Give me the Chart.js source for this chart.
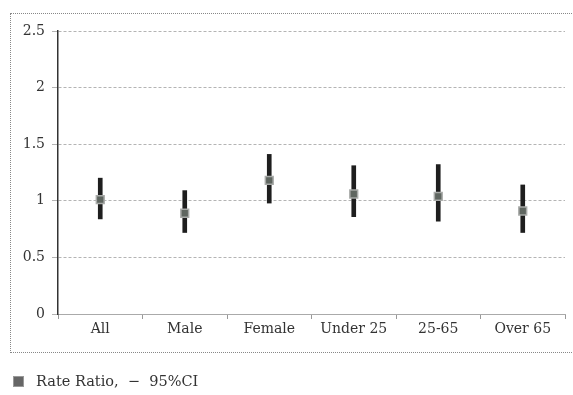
<!DOCTYPE html>
<html>
<head>
<meta charset="utf-8">
<script src="https://cdn.jsdelivr.net/npm/chart.js@4"></script>
<style>
  body { margin: 0; background: #fff; }
  #wrap { position: relative; width: 573px; height: 395px; }
  #frame { position: absolute; left: 10px; top: 13px; width: 570px; height: 340px; border: 1px dotted #888; box-sizing: border-box; }
  #legend { position: absolute; left: 13px; top: 373px; font: 14.5px "DejaVu Serif", serif; color: #333; }
  #legend .sq { display: inline-block; width: 9px; height: 9px; background: #666; border: 1px solid #999; margin-right: 12px; vertical-align: -1px; }
</style>
</head>
<body>
<div id="wrap">
  <div id="frame"></div>
  <canvas id="chart" width="573" height="395"></canvas>
  <div id="legend"><span class="sq"></span>Rate Ratio,&nbsp; &minus;&nbsp; 95%CI</div>
</div>
<script>
// values
const groups = ['All', 'Male', 'Female', 'Under 25', '25-65', 'Over 65'];
const rateRatio = [1.01, 0.89, 1.18, 1.06, 1.04, 0.91];
const ciLower = [0.84, 0.72, 0.98, 0.86, 0.82, 0.72];
const ciUpper = [1.20, 1.09, 1.41, 1.31, 1.32, 1.14];

const serif = '"DejaVu Serif", serif';

new Chart(document.getElementById('chart'), {
    data: {
        labels: groups,
        datasets: [
            {
                type: 'line',
                label: 'Rate Ratio',
                data: rateRatio,
                showLine: false,
                pointStyle: 'rect',
                pointRadius: 5.5,
                pointBackgroundColor: '#5f6660',
                pointBorderColor: '#a8aaa8',
                pointBorderWidth: 1.5,
                order: 1
            },
            {
                type: 'bar',
                label: '95%CI',
                data: ciLower.map((lo, i) => [lo, ciUpper[i]]),
                backgroundColor: '#1e1e1e',
                barThickness: 4,
                order: 2
            }
        ]
    },
    options: {
        responsive: false,
        animation: false,
        layout: { padding: { left: 10, right: 8, top: 31, bottom: 51 } },
        plugins: { legend: { display: false }, tooltip: { enabled: false } },
        scales: {
            x: {
                offset: true,
                afterFit: s => { s.height = 30; },
                grid: { drawOnChartArea: false, drawTicks: true, tickLength: 5, color: '#999', offset: true },
                border: { color: '#aaa', width: 1 },
                ticks: { color: '#333', font: { family: serif, size: 14 }, padding: 2 }
            },
            y: {
                min: 0,
                max: 2.5,
                afterFit: s => { s.width = 48; },
                grid: { color: '#b4b4b4', tickLength: 6, lineWidth: 1 },
                border: { color: '#333', width: 1.5, dash: [3, 2] },
                ticks: {
                    stepSize: 0.5,
                    color: '#333',
                    font: { family: serif, size: 14 },
                    padding: 7,
                    callback: v => String(v)
                }
            }
        }
    }
});
</script>
</body>
</html>
